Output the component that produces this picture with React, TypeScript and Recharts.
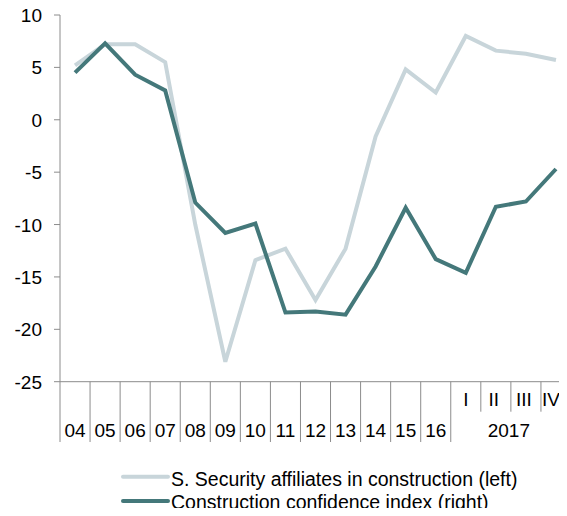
import { LineChart, Line, XAxis, YAxis } from "recharts";

// categories: years 2004-2016, then quarters of 2017
const categories = ["04", "05", "06", "07", "08", "09", "10", "11", "12", "13", "14", "15", "16", "I", "II", "III", "IV"];
const affiliates = [5.2, 7.2, 7.2, 5.5, -10, -23.1, -13.4, -12.3, -17.2, -12.3, -1.6, 4.8, 2.6, 8.0, 6.6, 6.3, 5.7];
const confidence = [4.5, 7.3, 4.3, 2.8, -7.9, -10.8, -9.9, -18.4, -18.3, -18.6, -14.0, -8.4, -13.3, -14.6, -8.3, -7.8, -4.7];
const yTicks = [-25, -20, -15, -10, -5, 0, 5, 10];
const yearLabel = "2017";

const data = categories.map((cat, i) => ({
  cat,
  affiliates: affiliates[i],
  confidence: confidence[i],
}));

const colors = {
  affiliates: "#c8d5da",
  confidence: "#44787a",
  axis: "#8c8c8c",
};

const WIDTH = 600;
const HEIGHT = 516;
const LEFT = 60;
const RIGHT = 571;
const TOP = 15;
const BOTTOM = 381.7;
const bw = (RIGHT - LEFT) / categories.length;
const firstQuarter = categories.indexOf("I");
const font = "'Liberation Sans', Arial, sans-serif";
const tickFont = 19;

const CategoryTick = (props: any) => {
  const { x, index, payload } = props;
  const left = x - bw / 2;
  const isQuarter = index >= firstQuarter;
  const longSep = !isQuarter || index === firstQuarter;
  const isLast = index === categories.length - 1;
  return (
    <g>
      <line x1={left} x2={left} y1={BOTTOM} y2={longSep ? 442 : 411.7} stroke={colors.axis} strokeWidth={1} />
      {isLast && (
        <line x1={x + bw / 2} x2={x + bw / 2} y1={BOTTOM} y2={442} stroke={colors.axis} strokeWidth={1} />
      )}
      <text
        x={isQuarter && index > firstQuarter ? x - (isLast ? 5 : 2) : x}
        y={isQuarter ? 406 : 436.5}
        textAnchor="middle"
        fontSize={tickFont}
        fill="#000"
        fontFamily={font}
      >
        {payload.value}
      </text>
      {index === firstQuarter && (
        <text x={left + bw * 2 - 2} y={436.5} textAnchor="middle" fontSize={tickFont} fill="#000" fontFamily={font}>
          {yearLabel}
        </text>
      )}
    </g>
  );
};

const ValueTick = (props: any) => {
  const { y, payload } = props;
  return (
    <text x={42} y={y} dy={7} textAnchor="end" fontSize={tickFont} fill="#000" fontFamily={font}>
      {payload.value}
    </text>
  );
};

const legendItems = [
  { label: "S. Security affiliates in construction (left)", color: colors.affiliates, lineY: 476.7, textY: 485.5 },
  { label: "Construction confidence index (right)", color: colors.confidence, lineY: 501, textY: 508.5 },
];

export default function App() {
  return (
    <div style={{ position: "relative", width: 567, height: 516, overflow: "hidden", margin: -8, background: "#fff" }}>
      <LineChart
        width={WIDTH}
        height={HEIGHT}
        data={data}
        margin={{ top: TOP, right: WIDTH - RIGHT, left: 0, bottom: HEIGHT - BOTTOM - 70 }}
      >
        <XAxis
          dataKey="cat"
          scale="band"
          interval={0}
          height={70}
          tickLine={false}
          axisLine={{ stroke: colors.axis, strokeWidth: 1 }}
          tick={<CategoryTick />}
        />
        <YAxis
          width={LEFT}
          domain={[-25, 10]}
          ticks={yTicks}
          interval={0}
          tickSize={6}
          tickLine={{ stroke: colors.axis }}
          axisLine={{ stroke: colors.axis, strokeWidth: 1 }}
          tick={<ValueTick />}
        />
        <Line
          dataKey="affiliates"
          stroke={colors.affiliates}
          strokeWidth={4}
          dot={false}
          isAnimationActive={false}
        />
        <Line
          dataKey="confidence"
          stroke={colors.confidence}
          strokeWidth={4}
          dot={false}
          isAnimationActive={false}
        />
      </LineChart>
      <svg width={567} height={516} style={{ position: "absolute", left: 0, top: 0, pointerEvents: "none" }}>
        {legendItems.map((item) => (
          <g key={item.label}>
            <line x1={123} x2={168} y1={item.lineY} y2={item.lineY} stroke={item.color} strokeWidth={4} strokeLinecap="round" />
            <text x={171} y={item.textY} fontSize={19.5} fill="#000" fontFamily={font}>
              {item.label}
            </text>
          </g>
        ))}
      </svg>
    </div>
  );
}
